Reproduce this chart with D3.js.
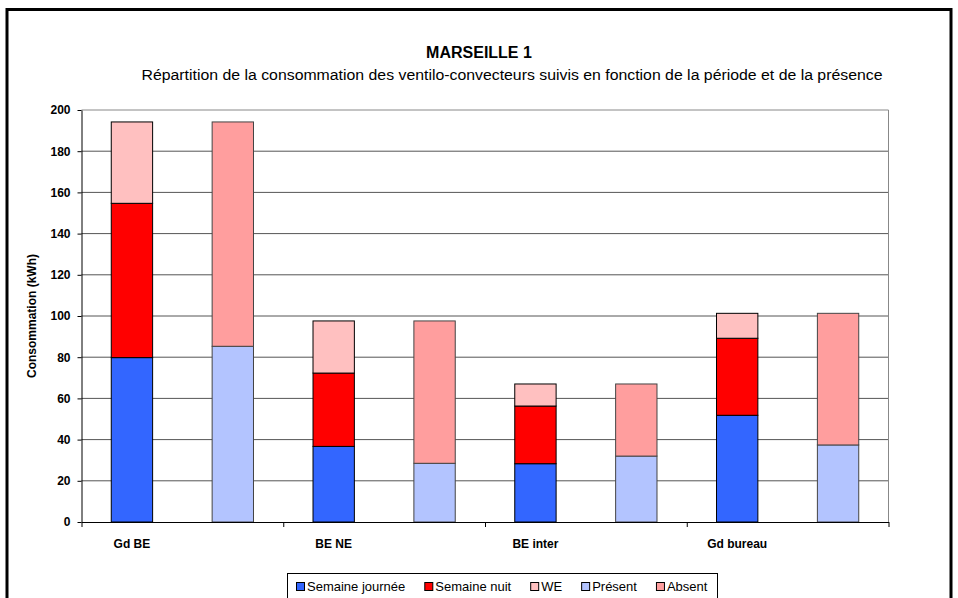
<!DOCTYPE html>
<html>
<head>
<meta charset="utf-8">
<script src="https://cdn.jsdelivr.net/npm/d3@7"></script>
<style>
  body { margin: 0; background: #fff; }
  text { font-family: Arial, "Liberation Sans", sans-serif; }
</style>
</head>
<body>
<div id="chart"></div>
<script>
// data
const groups = ["Gd BE", "BE NE", "BE inter", "Gd bureau"];
const semaineJournee = [79.8, 36.7, 28.3, 51.8];
const semaineNuit = [74.9, 35.6, 28.0, 37.4];
const weekEnd = [39.5, 25.3, 10.7, 12.1];
const present = [85.3, 28.5, 32.0, 37.4];
const absent = [108.9, 69.1, 35.0, 63.9];
const yTicks = [0, 20, 40, 60, 80, 100, 120, 140, 160, 180, 200];

const keys = ["Semaine journée", "Semaine nuit", "WE", "Présent", "Absent"];
const colors = ["#3366ff", "#ff0000", "#ffc0c0", "#b3c4ff", "#ff9e9e"];

const w = 958, h = 598;
const plotLeft = 81.5, plotRight = 888.5, plotTop = 110, plotBottom = 522;

const svg = d3.select("#chart").append("svg")
    .attr("width", w)
    .attr("height", h);

// outer frame
svg.append("rect")
    .attr("x", 7).attr("y", 9.5)
    .attr("width", 944).attr("height", 700)
    .attr("fill", "#fff")
    .attr("stroke", "#000")
    .attr("stroke-width", 3);

// build one row per bar (2 bars per group)
const rows = [];
groups.forEach((g, i) => {
    rows.push({group: g, kind: "periode", "Semaine journée": semaineJournee[i], "Semaine nuit": semaineNuit[i], "WE": weekEnd[i], "Présent": 0, "Absent": 0});
    rows.push({group: g, kind: "presence", "Semaine journée": 0, "Semaine nuit": 0, "WE": 0, "Présent": present[i], "Absent": absent[i]});
});

const xg = d3.scaleBand().domain(groups).range([plotLeft, plotRight]).padding(0);
const x1 = d3.scaleBand().domain(["periode", "presence"])
    .range([0, xg.bandwidth()])
    .paddingInner(0.59)
    .paddingOuter(0.295);
const y = d3.scaleLinear().domain([0, 200]).range([plotBottom, plotTop]);
const color = d3.scaleOrdinal().domain(keys).range(colors);

// gridlines
svg.append("g").selectAll("line")
    .data(yTicks.filter(d => d > 0))
    .enter().append("line")
    .attr("x1", plotLeft).attr("x2", plotRight)
    .attr("y1", d => y(d)).attr("y2", d => y(d))
    .attr("stroke", d => d === 200 ? "#888" : "#555")
    .attr("stroke-width", 1);

// right border of plot
svg.append("line")
    .attr("x1", plotRight).attr("x2", plotRight)
    .attr("y1", plotTop).attr("y2", plotBottom)
    .attr("stroke", "#888");

// stacked bars
const stacked = d3.stack().keys(keys)(rows);
svg.append("g").selectAll("g")
    .data(stacked)
    .enter().append("g")
    .attr("fill", d => color(d.key))
    .selectAll("rect")
    .data(d => d.filter(s => s[1] - s[0] > 0))
    .enter().append("rect")
    .attr("x", d => xg(d.data.group) + x1(d.data.kind))
    .attr("y", d => y(d[1]))
    .attr("width", x1.bandwidth())
    .attr("height", d => y(d[0]) - y(d[1]))
    .attr("stroke", d => d.data.kind === "periode" ? "#000" : "#444")
    .attr("stroke-width", 1);

// y axis
const yAxis = svg.append("g")
    .attr("transform", "translate(" + plotLeft + ",0)")
    .call(d3.axisLeft(y).tickValues(yTicks).tickSize(4).tickPadding(7).tickSizeOuter(0));
yAxis.selectAll("text")
    .style("font-size", "12px")
    .style("font-weight", "bold")
    .attr("fill", "#000");
yAxis.selectAll("line, path").attr("stroke", "#000");

// x axis: ticks at group boundaries
const xl = d3.scaleLinear().domain([0, groups.length]).range([plotLeft, plotRight]);
const xAxis = svg.append("g")
    .attr("transform", "translate(0," + plotBottom + ")")
    .call(d3.axisBottom(xl).tickValues(d3.range(0, groups.length + 1)).tickFormat("").tickSize(5).tickSizeOuter(0));
xAxis.selectAll("line, path").attr("stroke", "#000");

svg.append("g").selectAll("text")
    .data(groups)
    .enter().append("text")
    .attr("x", d => xg(d) + x1("periode") + x1.bandwidth() / 2)
    .attr("y", 548)
    .attr("text-anchor", "middle")
    .style("font-size", "12px")
    .style("font-weight", "bold")
    .text(d => d);

// axis title
svg.append("text")
    .attr("transform", "translate(36," + (plotTop + plotBottom) / 2 + ") rotate(-90)")
    .attr("text-anchor", "middle")
    .style("font-size", "12px")
    .style("font-weight", "bold")
    .text("Consommation (kWh)");

// titles
svg.append("text")
    .attr("x", 479).attr("y", 58)
    .attr("text-anchor", "middle")
    .style("font-size", "16px")
    .style("font-weight", "bold")
    .text("MARSEILLE 1");
svg.append("text")
    .attr("x", 512).attr("y", 80)
    .attr("text-anchor", "middle")
    .attr("textLength", 741)
    .attr("lengthAdjust", "spacingAndGlyphs")
    .style("font-size", "14px")
    .text("Répartition de la consommation des ventilo-convecteurs suivis en fonction de la période et de la présence");

// legend
const legend = svg.append("g");
legend.append("rect")
    .attr("x", 287.5).attr("y", 573.5)
    .attr("width", 430).attr("height", 40)
    .attr("fill", "#fff")
    .attr("stroke", "#000");
let lx = 296;
keys.forEach(k => {
    legend.append("rect")
        .attr("x", lx + 0.5).attr("y", 582.5)
        .attr("width", 8).attr("height", 8)
        .attr("fill", color(k))
        .attr("stroke", "#000");
    const t = legend.append("text")
        .attr("x", lx + 11).attr("y", 591)
        .style("font-size", "13px")
        .text(k);
    lx += 11 + t.node().getComputedTextLength() + 19;
});
</script>
</body>
</html>
